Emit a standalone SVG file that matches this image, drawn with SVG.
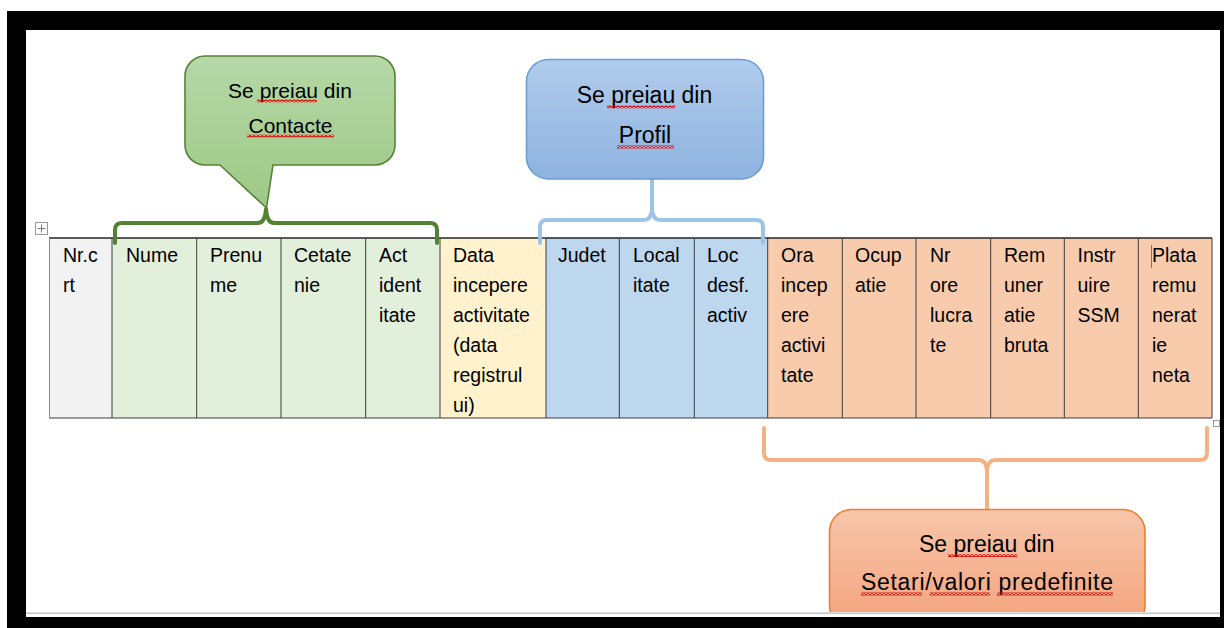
<svg xmlns="http://www.w3.org/2000/svg" width="1224" height="628" viewBox="0 0 1224 628">
<defs>
<linearGradient id="gGreen" x1="0" y1="0" x2="0" y2="1"><stop offset="0" stop-color="#b6d8a7"/><stop offset="1" stop-color="#9dc886"/></linearGradient>
<linearGradient id="gBlue" x1="0" y1="0" x2="0" y2="1"><stop offset="0" stop-color="#b1ccec"/><stop offset="1" stop-color="#8eb3df"/></linearGradient>
<linearGradient id="gOrange" x1="0" y1="0" x2="0" y2="1"><stop offset="0" stop-color="#f7c6aa"/><stop offset="1" stop-color="#f4a27c"/></linearGradient>
<pattern id="squig" width="4" height="3" patternUnits="userSpaceOnUse"><path d="M0,2.5 L2,0.5 L4,2.5" fill="none" stroke="#e00000" stroke-width="1.2"/></pattern>
</defs>
<style>
.cell{font-family:"Liberation Sans",Arial,sans-serif;font-size:19.5px;fill:#000}
.call{font-family:"Liberation Sans",Arial,sans-serif;fill:#000;text-anchor:middle}
.vline{stroke:#3c3c3c;stroke-width:1}
.brace{fill:none;stroke-width:4;stroke-linecap:round;stroke-linejoin:round}
.sq{fill:url(#squig)}
.frame{fill:#000}
</style>
<rect x="0" y="0" width="1224" height="628" fill="#fff"/>

<g id="table">
  <rect x="49" y="238" width="63" height="180" fill="#f2f2f2"/>
  <rect x="112" y="238" width="328" height="180" fill="#e2efda"/>
  <rect x="440" y="238" width="106" height="180" fill="#fff2cc"/>
  <rect x="546" y="238" width="222" height="180" fill="#bdd7ee"/>
  <rect x="768" y="238" width="444" height="180" fill="#f8cbad"/>
  <line x1="49" y1="238" x2="1212" y2="238" stroke="#262626" stroke-width="1.6"/>
  <line x1="49" y1="418" x2="1212" y2="418" stroke="#3c3c3c" stroke-width="1.2"/>
  <line x1="49.5" y1="238" x2="49.5" y2="418" stroke="#8a8a8a" stroke-width="1"/>
  <line x1="1212" y1="238" x2="1212" y2="418" class="vline"/>
  <g class="vline">
    <line x1="112" y1="238" x2="112" y2="418"/>
    <line x1="196.7" y1="238" x2="196.7" y2="418"/>
    <line x1="281" y1="238" x2="281" y2="418"/>
    <line x1="365.7" y1="238" x2="365.7" y2="418"/>
    <line x1="440" y1="238" x2="440" y2="418"/>
    <line x1="546" y1="238" x2="546" y2="418"/>
    <line x1="619.3" y1="238" x2="619.3" y2="418"/>
    <line x1="694.3" y1="238" x2="694.3" y2="418"/>
    <line x1="767.7" y1="238" x2="767.7" y2="418"/>
    <line x1="842.3" y1="238" x2="842.3" y2="418"/>
    <line x1="916" y1="238" x2="916" y2="418"/>
    <line x1="990.7" y1="238" x2="990.7" y2="418"/>
    <line x1="1064.3" y1="238" x2="1064.3" y2="418"/>
    <line x1="1138.3" y1="238" x2="1138.3" y2="418"/>
  </g>
  <text class="cell" y="262"><tspan x="63">Nr.c</tspan><tspan x="63" dy="30">rt</tspan></text>
  <text class="cell" y="262"><tspan x="126">Nume</tspan></text>
  <text class="cell" y="262"><tspan x="210">Prenu</tspan><tspan x="210" dy="30">me</tspan></text>
  <text class="cell" y="262"><tspan x="294">Cetate</tspan><tspan x="294" dy="30">nie</tspan></text>
  <text class="cell" y="262"><tspan x="379">Act</tspan><tspan x="379" dy="30">ident</tspan><tspan x="379" dy="30">itate</tspan></text>
  <text class="cell" y="262"><tspan x="453">Data</tspan><tspan x="453" dy="30">incepere</tspan><tspan x="453" dy="30">activitate</tspan><tspan x="453" dy="30">(data</tspan><tspan x="453" dy="30">registrul</tspan><tspan x="453" dy="30">ui)</tspan></text>
  <text class="cell" y="262"><tspan x="558">Judet</tspan></text>
  <text class="cell" y="262"><tspan x="633">Local</tspan><tspan x="633" dy="30">itate</tspan></text>
  <text class="cell" y="262"><tspan x="707">Loc</tspan><tspan x="707" dy="30">desf.</tspan><tspan x="707" dy="30">activ</tspan></text>
  <text class="cell" y="262"><tspan x="781">Ora</tspan><tspan x="781" dy="30">incep</tspan><tspan x="781" dy="30">ere</tspan><tspan x="781" dy="30">activi</tspan><tspan x="781" dy="30">tate</tspan></text>
  <text class="cell" y="262"><tspan x="855">Ocup</tspan><tspan x="855" dy="30">atie</tspan></text>
  <text class="cell" y="262"><tspan x="930">Nr</tspan><tspan x="930" dy="30">ore</tspan><tspan x="930" dy="30">lucra</tspan><tspan x="930" dy="30">te</tspan></text>
  <text class="cell" y="262"><tspan x="1004">Rem</tspan><tspan x="1004" dy="30">uner</tspan><tspan x="1004" dy="30">atie</tspan><tspan x="1004" dy="30">bruta</tspan></text>
  <text class="cell" y="262"><tspan x="1077.5">Instr</tspan><tspan x="1077.5" dy="30">uire</tspan><tspan x="1077.5" dy="30">SSM</tspan></text>
  <text class="cell" y="262"><tspan x="1152">Plata</tspan><tspan x="1152" dy="30">remu</tspan><tspan x="1152" dy="30">nerat</tspan><tspan x="1152" dy="30">ie</tspan><tspan x="1152" dy="30">neta</tspan></text>
  <line x1="1151.5" y1="245" x2="1151.5" y2="268" stroke="#777" stroke-width="1"/>
  <g id="move-handle">
    <rect x="35.5" y="222.5" width="12" height="12" fill="#fff" stroke="#9a9a9a" stroke-width="1"/>
    <path d="M41.5,224.5 V232.5 M37.5,228.5 H45.5" stroke="#777" stroke-width="1"/>
  </g>
  <rect x="1213.5" y="420.5" width="6" height="6" fill="#fff" stroke="#9a9a9a" stroke-width="1"/>
</g>

<g id="connectors">
  <path class="brace" stroke="#548235" d="M115,243 V230 Q115,223 122,223 H258 Q265,223 266,209 Q267,223 274,223 H430 Q437,223 437,230 V243"/>
  <path class="brace" stroke="#9dc3e6" d="M540,243 V227 Q540,220 547,220 H644 Q651,220 652,210 V179 M652,210 Q653,220 660,220 H756 Q763,220 763,227 V243"/>
  <path class="brace" stroke="#f4b183" d="M764,428 V453 Q764,460 771,460 H979 Q986,460 987,470 V509 M987,470 Q988,460 995,460 H1200 Q1207,460 1207,453 V428"/>
</g>

<g id="callout-contacte">
  <path d="M205,56 H375 A20,20 0 0 1 395,76 V145 A20,20 0 0 1 375,165 H273 L266.5,208 L220,165 H205 A20,20 0 0 1 185,145 V76 A20,20 0 0 1 205,56 Z" fill="url(#gGreen)" stroke="#548235" stroke-width="1.6"/>
  <text class="call" font-size="21" x="290" y="98">Se preiau din</text>
  <text class="call" font-size="21" x="290.5" y="133">Contacte</text>
  <rect class="sq" x="257" y="99.5" width="60" height="3"/>
  <rect class="sq" x="247" y="134.5" width="87" height="3"/>
</g>

<g id="callout-profil">
  <rect x="526.5" y="59.5" width="237" height="119.5" rx="22" ry="22" fill="url(#gBlue)" stroke="#6a9fd6" stroke-width="1.6"/>
  <text class="call" font-size="23" x="644.5" y="103">Se preiau din</text>
  <text class="call" font-size="23" x="645" y="143">Profil</text>
  <rect class="sq" x="607" y="105.5" width="68" height="3"/>
  <rect class="sq" x="617" y="145.5" width="57" height="3"/>
</g>

<g id="callout-setari">
  <rect x="829.5" y="509.5" width="315.5" height="118" rx="22" ry="22" fill="url(#gOrange)" stroke="#ed7d31" stroke-width="1.6"/>
  <text class="call" font-size="23" x="986.7" y="552">Se preiau din</text>
  <text class="call" font-size="23" x="987" y="590" textLength="252" lengthAdjust="spacing">Setari/valori predefinite</text>
  <rect class="sq" x="948" y="554" width="69" height="3"/>
  <rect class="sq" x="861" y="592.5" width="61" height="3"/>
  <rect class="sq" x="930" y="592.5" width="60" height="3"/>
  <rect class="sq" x="997" y="592.5" width="116" height="3"/>
</g>

<g id="frame">
  <rect x="26" y="612" width="1194" height="5" fill="#fff"/>
  <rect x="26" y="612.5" width="1194" height="1.5" fill="#c4c4c4"/>
  <rect class="frame" x="7" y="11" width="1217" height="19"/>
  <rect class="frame" x="7" y="11" width="19" height="617"/>
  <rect class="frame" x="7" y="617" width="1217" height="11"/>
  <rect class="frame" x="1220" y="11" width="4" height="617"/>
</g>
</svg>
